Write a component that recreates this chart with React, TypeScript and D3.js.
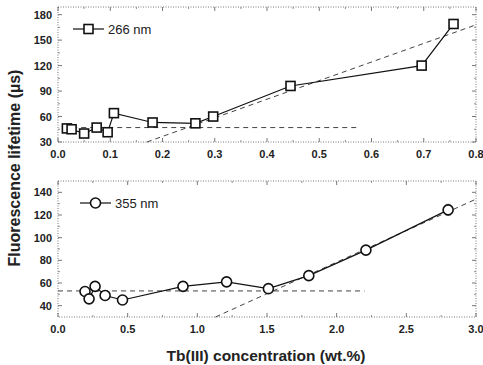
import React from "react";
import * as d3 from "d3";

// Top panel: 266 nm excitation
const xTop = [0.017, 0.026, 0.05, 0.074, 0.095, 0.107, 0.181, 0.263, 0.297, 0.445, 0.696, 0.757];
const yTop = [46, 45, 40, 47, 41.5, 64, 53, 52, 60, 96, 120, 169];
const errTop = [3, 3, 3, 3, 3, 4, 3, 3, 3, 5, 5, 5];
const fitFlatTop = [[0.01, 47], [0.576, 47]];
const fitSlopeTop = [[0.17, 30], [0.8, 168]];
const xTicksTop = [0, 0.1, 0.2, 0.3, 0.4, 0.5, 0.6, 0.7, 0.8];
const yTicksTop = [30, 60, 90, 120, 150, 180];

// Bottom panel: 355 nm excitation
const xBot = [0.194, 0.223, 0.266, 0.338, 0.463, 0.897, 1.21, 1.51, 1.8, 2.21, 2.8];
const yBot = [52.5, 46, 57, 49, 45, 57, 61, 55, 66.5, 89, 124.5];
const errBot = [2, 2, 2, 2, 2, 2, 2, 2, 2, 3, 5];
const fitFlatBot = [[0.0, 53], [2.2, 53]];
const fitSlopeBot = [[1.13, 30], [3.0, 134]];
const xTicksBot = [0, 0.5, 1.0, 1.5, 2.0, 2.5, 3.0];
const yTicksBot = [40, 60, 80, 100, 120, 140];

const FONT = "'Liberation Sans', Arial, sans-serif";

type PanelProps = {
  xs: number[]; ys: number[]; errs: number[];
  flat: number[][]; slope: number[][];
  xDomain: [number, number]; yDomain: [number, number];
  xTicks: number[]; yTicks: number[];
  xMinor: number[]; yMinor: number[];
  top: number; bottom: number;
  marker: "square" | "circle"; legend: string; legendY: number; legendX: number;
};

function Panel(p: PanelProps) {
  const left = 58, right = 476;
  const x = d3.scaleLinear().domain(p.xDomain).range([left, right]);
  const y = d3.scaleLinear().domain(p.yDomain).range([p.bottom, p.top]);
  const line = d3.line<number>().x((_, i) => x(p.xs[i])).y((d) => y(d));
  const dash = d3.line<number[]>().x((d) => x(d[0])).y((d) => y(d[1]));
  const tl = 4, tm = 2;
  const fmt = (v: number) => v.toFixed(1);
  const mk = (cx: number, cy: number, key: string) =>
    p.marker === "square" ? (
      <rect key={key} x={cx - 4.5} y={cy - 4.5} width={9} height={9} fill="white" stroke="#111" strokeWidth={1.6} />
    ) : (
      <circle key={key} cx={cx} cy={cy} r={5} fill="white" stroke="#111" strokeWidth={1.6} />
    );
  return (
    <g>
      <rect x={left} y={p.top} width={right - left} height={p.bottom - p.top} fill="none" stroke="#555" strokeWidth={0.8} strokeDasharray="1,1.5" />
      {p.xTicks.map((t, i) => (
        <g key={"xt" + i}>
          <line x1={x(t)} x2={x(t)} y1={p.bottom} y2={p.bottom - tl} stroke="#555" strokeWidth={0.8} />
          <line x1={x(t)} x2={x(t)} y1={p.top} y2={p.top + tl} stroke="#555" strokeWidth={0.8} />
          <text x={x(t)} y={p.bottom + 16} textAnchor="middle" fontFamily={FONT} fontWeight="bold" fontSize={11} fill="#222">{fmt(t)}</text>
        </g>
      ))}
      {p.xMinor.map((t, i) => (
        <g key={"xm" + i}>
          <line x1={x(t)} x2={x(t)} y1={p.bottom} y2={p.bottom - tm} stroke="#777" strokeWidth={0.8} />
          <line x1={x(t)} x2={x(t)} y1={p.top} y2={p.top + tm} stroke="#777" strokeWidth={0.8} />
        </g>
      ))}
      {p.yTicks.map((t, i) => (
        <g key={"yt" + i}>
          <line x1={left} x2={left + tl} y1={y(t)} y2={y(t)} stroke="#555" strokeWidth={0.8} />
          <line x1={right} x2={right - tl} y1={y(t)} y2={y(t)} stroke="#555" strokeWidth={0.8} />
          <text x={52} y={y(t) + 4} textAnchor="end" fontFamily={FONT} fontWeight="bold" fontSize={11} fill="#222">{t}</text>
        </g>
      ))}
      {p.yMinor.map((t, i) => (
        <g key={"ym" + i}>
          <line x1={left} x2={left + tm} y1={y(t)} y2={y(t)} stroke="#777" strokeWidth={0.8} />
          <line x1={right} x2={right - tm} y1={y(t)} y2={y(t)} stroke="#777" strokeWidth={0.8} />
        </g>
      ))}
      <path d={dash(p.flat) || ""} fill="none" stroke="#444" strokeWidth={1} strokeDasharray="5,4" />
      <path d={dash(p.slope) || ""} fill="none" stroke="#444" strokeWidth={1} strokeDasharray="5,4" />
      <path d={line(p.ys) || ""} fill="none" stroke="#111" strokeWidth={1.2} />
      {p.ys.map((v, i) => (
        <g key={"e" + i} stroke="#888" strokeWidth={0.7}>
          <line x1={x(p.xs[i])} x2={x(p.xs[i])} y1={y(v + p.errs[i])} y2={y(v - p.errs[i])} />
          <line x1={x(p.xs[i]) - 2.5} x2={x(p.xs[i]) + 2.5} y1={y(v + p.errs[i])} y2={y(v + p.errs[i])} />
          <line x1={x(p.xs[i]) - 2.5} x2={x(p.xs[i]) + 2.5} y1={y(v - p.errs[i])} y2={y(v - p.errs[i])} />
        </g>
      ))}
      {p.ys.map((v, i) => mk(x(p.xs[i]), y(v), "m" + i))}
      <line x1={p.legendX} x2={p.legendX + 31} y1={p.legendY} y2={p.legendY} stroke="#111" strokeWidth={1.2} />
      {mk(p.legendX + 15.5, p.legendY, "lg")}
      <text x={p.legendX + 35} y={p.legendY + 4.5} fontFamily={FONT} fontSize={13} fill="#222">{p.legend}</text>
    </g>
  );
}

export default function App() {
  const range = (a: number, b: number, s: number) => d3.range(a, b + 1e-9, s);
  return (
    <svg width={483} height={365} style={{ display: "block", position: "absolute", left: 0, top: 0 }}>
      <rect width={483} height={365} fill="white" />
      <Panel xs={xTop} ys={yTop} errs={errTop} flat={fitFlatTop} slope={fitSlopeTop}
        xDomain={[0, 0.8]} yDomain={[30, 189]} xTicks={xTicksTop} yTicks={yTicksTop}
        xMinor={range(0.05, 0.75, 0.1)} yMinor={range(45, 165, 30)}
        top={7} bottom={142} marker="square" legend="266 nm" legendY={29} legendX={73} />
      <Panel xs={xBot} ys={yBot} errs={errBot} flat={fitFlatBot} slope={fitSlopeBot}
        xDomain={[0, 3]} yDomain={[30, 150]} xTicks={xTicksBot} yTicks={yTicksBot}
        xMinor={range(0.25, 2.75, 0.5)} yMinor={range(50, 130, 20)}
        top={181} bottom={317} marker="circle" legend="355 nm" legendY={203} legendX={80} />
      <text transform="translate(20,168) rotate(-90)" textAnchor="middle" fontFamily={FONT} fontWeight="bold" fontSize={16} fill="#222">Fluorescence lifetime (µs)</text>
      <text x={266} y={361} textAnchor="middle" fontFamily={FONT} fontWeight="bold" fontSize={15.5} fill="#222">Tb(III) concentration (wt.%)</text>
    </svg>
  );
}
